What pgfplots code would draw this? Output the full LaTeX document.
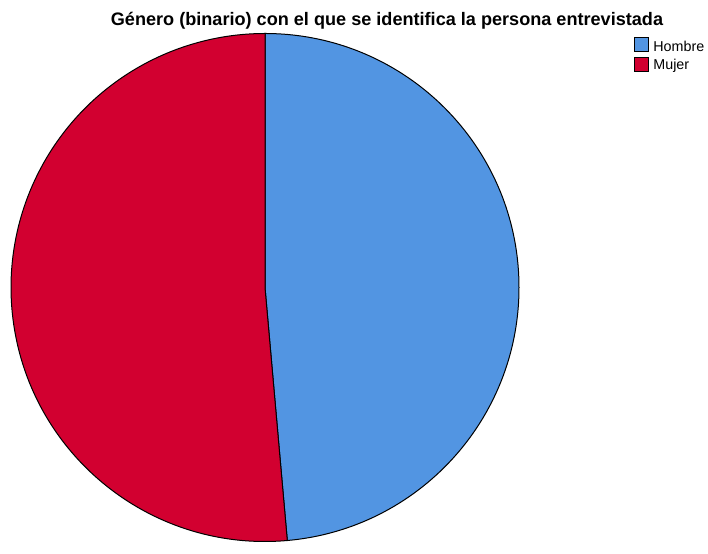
\documentclass[border=0pt]{standalone}
\usepackage{pgfplots}
\usepackage{pgfplotstable}
\usetikzlibrary{calc}
\pgfplotsset{compat=1.18}
\usepackage{fontspec}
\setmainfont{Liberation Sans}
\definecolor{hombre}{RGB}{82,149,226}
\definecolor{mujer}{RGB}{210,0,48}
\pgfplotstableread{
genero porcentaje
Hombre 48.6
Mujer 51.4
}\datos
\begin{document}
\begin{tikzpicture}
\pgfplotstablegetelem{0}{porcentaje}\of\datos
\let\vh\pgfplotsretval
\pgfmathsetmacro{\angh}{90-3.6*\vh}
\begin{axis}[hide axis, scale only axis, width=354pt, height=271pt,
  xmin=0, xmax=708, ymin=0, ymax=542, clip=false]
\path (axis cs:0,0) rectangle (axis cs:708,542);
\filldraw[fill=hombre, draw=black, line width=0.5pt]
  (axis cs:265,254.5) -- (axis cs:265,508.5) arc[start angle=90, end angle=\angh, radius=127pt] -- cycle;
\filldraw[fill=mujer, draw=black, line width=0.5pt]
  (axis cs:265,254.5) -- ($(axis cs:265,254.5)+(\angh:127pt)$) arc[start angle=\angh, end angle=-270, radius=127pt] -- cycle;
\node[font=\bfseries\fontsize{9.05pt}{10pt}\selectfont, anchor=base, inner sep=0pt] at (axis cs:387,542-26) {Género (binario) con el que se identifica la persona entrevistada};
\filldraw[fill=hombre, draw=black, line width=0.5pt] (axis cs:634.5,542-38) rectangle (axis cs:648,542-51.5);
\filldraw[fill=mujer, draw=black, line width=0.5pt] (axis cs:634.5,542-58) rectangle (axis cs:648,542-71.5);
\node[font=\fontsize{7.15pt}{8pt}\selectfont, anchor=base west, inner sep=0pt] at (axis cs:653,542-51.5) {Hombre};
\node[font=\fontsize{7.15pt}{8pt}\selectfont, anchor=base west, inner sep=0pt] at (axis cs:653,542-70) {Mujer};
\end{axis}
\end{tikzpicture}
\end{document}
